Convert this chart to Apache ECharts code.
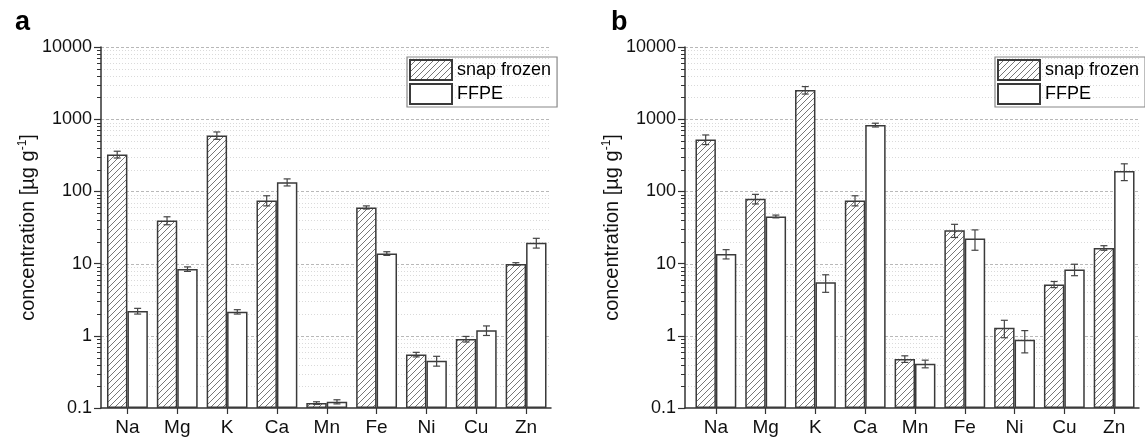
<!DOCTYPE html>
<html>
<head>
<meta charset="utf-8">
<script src="https://cdn.jsdelivr.net/npm/echarts@6/dist/echarts.min.js"></script>
<style>
  html, body { margin: 0; padding: 0; background: #fff; }
  #chart { width: 1145px; height: 441px; }
</style>
</head>
<body>
<div id="chart"></div>
<script>
var elements = ['Na', 'Mg', 'K', 'Ca', 'Mn', 'Fe', 'Ni', 'Cu', 'Zn'];
var tickLabels = ['0.1', '1', '10', '100', '1000', '10000'];
var seriesNames = ['snap frozen', 'FFPE'];

// panel a
var snapA = [325, 39.5, 596, 75, 0.117, 60, 0.55, 0.9, 9.9];
var snapErrA = [35, 5, 70, 12, 0.005, 3, 0.04, 0.08, 0.4];
var ffpeA = [2.2, 8.4, 2.15, 134, 0.122, 13.8, 0.45, 1.19, 19.4];
var ffpeErrA = [0.2, 0.6, 0.15, 15, 0.008, 0.8, 0.07, 0.18, 3];

// panel b
var snapB = [525, 79, 2530, 75, 0.478, 29, 1.29, 5.15, 16.5];
var snapErrB = [80, 12, 300, 12, 0.05, 6, 0.35, 0.5, 1.2];
var ffpeB = [13.6, 45, 5.5, 830, 0.41, 22.3, 0.88, 8.3, 191];
var ffpeErrB = [2, 2, 1.5, 50, 0.05, 7, 0.3, 1.5, 50];

var font = 'Liberation Sans, Arial, sans-serif';
var ink = '#333';

// hatch pattern for snap frozen
function hatch() {
  var s = 6;
  var c = document.createElement('canvas');
  c.width = s; c.height = s;
  var g = c.getContext('2d');
  g.fillStyle = '#fff';
  g.fillRect(0, 0, s, s);
  g.strokeStyle = '#777';
  g.lineWidth = 1;
  g.beginPath();
  g.moveTo(0, s); g.lineTo(s, 0);
  g.moveTo(-1, 1); g.lineTo(1, -1);
  g.moveTo(s - 1, s + 1); g.lineTo(s + 1, s - 1);
  g.stroke();
  return c;
}
var hatchFill = { image: hatch(), repeat: 'repeat' };

// grid line values: 1..9 x each decade
var gridVals = [];
for (var d = -1; d <= 3; d++) {
  for (var m = 1; m <= 9; m++) {
    gridVals.push([0, +(m * Math.pow(10, d)).toPrecision(3), m === 1 ? 1 : 0]);
  }
}
gridVals.push([0, 10000, 1]);

var panels = [
  { frame: { left: 101, top: 47, width: 450, height: 361 },
    bars: { left: 102.5, top: 47, width: 448.5, height: 361 },
    title: 'a', titleLeft: 10, legendLeft: 407, nameGap: 62,
    snap: snapA, snapErr: snapErrA, ffpe: ffpeA, ffpeErr: ffpeErrA },
  { frame: { left: 685, top: 47, width: 454, height: 361 },
    bars: { left: 691, top: 47, width: 448, height: 361 },
    title: 'b', titleLeft: 606, legendLeft: 995, nameGap: 62,
    snap: snapB, snapErr: snapErrB, ffpe: ffpeB, ffpeErr: ffpeErrB }
];

function errData(vals, errs) {
  return vals.map(function (v, i) { return [i, v, errs[i]]; });
}

function errRender(sign) {
  return function (params, api) {
    var i = api.value(0), v = api.value(1), e = api.value(2);
    var p0 = api.coord([i, v]);
    var band = api.coord([i + 1, v])[0] - p0[0];
    var x = p0[0] + sign * band * 0.205;
    var lo = Math.max(v - e, 0.1001);
    var y1 = api.coord([i, lo])[1];
    var y2 = api.coord([i, v + e])[1];
    var st = { stroke: '#444', lineWidth: 1.2 };
    return {
      type: 'group',
      children: [
        { type: 'line', shape: { x1: x, y1: y1, x2: x, y2: y2 }, style: st },
        { type: 'line', shape: { x1: x - 3.5, y1: y1, x2: x + 3.5, y2: y1 }, style: st },
        { type: 'line', shape: { x1: x - 3.5, y1: y2, x2: x + 3.5, y2: y2 }, style: st }
      ]
    };
  };
}

function gridRender(params, api) {
  var v = api.value(1), major = api.value(2);
  var y = Math.round(api.coord([0, v])[1]) + 0.5;
  var cs = params.coordSys;
  var kids = [];
  if (v > 0.1) {
    kids.push({ type: 'line', shape: { x1: cs.x, y1: y, x2: cs.x + cs.width, y2: y },
      style: { stroke: major ? '#b8b8b8' : '#dadada', lineWidth: 1, lineDash: major ? [3, 2] : [1, 2] } });
  }
  if (!major) {
    kids.push({ type: 'line', shape: { x1: cs.x - 4, y1: y, x2: cs.x, y2: y },
      style: { stroke: ink, lineWidth: 1 } });
  }
  return { type: 'group', children: kids };
}

var option = {
  backgroundColor: '#fff',
  animation: false,
  textStyle: { fontFamily: font },
  title: [], legend: [], grid: [], xAxis: [], yAxis: [], series: []
};

panels.forEach(function (p, k) {
  var g0 = k * 2, g1 = k * 2 + 1;
  option.title.push({ text: p.title, left: p.titleLeft, top: 4,
    textStyle: { fontFamily: font, fontSize: 27, fontWeight: 'bold', color: '#000' } });
  option.legend.push({
    data: seriesNames, orient: 'vertical', left: p.legendLeft, top: 57,
    icon: 'rect', itemWidth: 42, itemHeight: 20, itemGap: 2,
    padding: [2, 6, 2, 2], borderColor: '#888', borderWidth: 1.2,
    textStyle: { fontFamily: font, fontSize: 18, color: '#000' }
  });
  option.grid.push(Object.assign({ containLabel: false }, p.frame));
  option.grid.push(Object.assign({ containLabel: false }, p.bars));

  // frame axes
  option.xAxis.push({ type: 'value', gridIndex: g0, min: 0, max: 1,
    axisLine: { show: true, lineStyle: { color: ink, width: 1.5 } },
    axisTick: { show: false }, axisLabel: { show: false }, splitLine: { show: false } });
  option.yAxis.push({ type: 'log', gridIndex: g0, logBase: 10, min: 0.1, max: 10000,
    axisLine: { show: true, lineStyle: { color: ink, width: 1.5 } },
    axisTick: { show: true, length: 7, lineStyle: { color: ink, width: 1.2 } },
    axisLabel: { fontFamily: font, fontSize: 18, color: '#111', margin: 9,
      formatter: function (v) { return tickLabels[Math.round(Math.log10(v)) + 1]; } },
    splitLine: { show: false },
    name: 'concentration [µg g{sup|-1}]', nameLocation: 'middle', nameGap: p.nameGap, nameRotate: 90,
    nameTextStyle: { fontFamily: font, fontSize: 20, color: '#111',
      rich: { sup: { fontFamily: font, fontSize: 12, verticalAlign: 'top', padding: [0, 0, 10, 0] } } } });

  // bar axes
  option.xAxis.push({ type: 'category', gridIndex: g1, data: elements,
    axisLine: { show: false },
    axisTick: { show: true, alignWithLabel: true, length: 6, lineStyle: { color: ink, width: 1.2 } },
    axisLabel: { fontFamily: font, fontSize: 19, color: '#111', margin: 10 } });
  option.yAxis.push({ type: 'log', gridIndex: g1, logBase: 10, min: 0.1, max: 10000,
    startValue: 0.1, show: false });

  option.series.push({ type: 'custom', name: 'grid' + k, xAxisIndex: g0, yAxisIndex: g0, z: 0,
    data: gridVals, renderItem: gridRender, silent: true });
  option.series.push({ type: 'bar', name: seriesNames[0], xAxisIndex: g1, yAxisIndex: g1, z: 2,
    barGap: '0%', barCategoryGap: '18%', data: p.snap,
    itemStyle: { color: hatchFill, borderColor: '#3a3a3a', borderWidth: 1.5 } });
  option.series.push({ type: 'bar', name: seriesNames[1], xAxisIndex: g1, yAxisIndex: g1, z: 2,
    barGap: '0%', barCategoryGap: '18%', data: p.ffpe,
    itemStyle: { color: '#fff', borderColor: '#3a3a3a', borderWidth: 1.5 } });
  option.series.push({ type: 'custom', name: 'errSnap' + k, xAxisIndex: g1, yAxisIndex: g1, z: 3,
    data: errData(p.snap, p.snapErr), renderItem: errRender(-1), silent: true });
  option.series.push({ type: 'custom', name: 'errFfpe' + k, xAxisIndex: g1, yAxisIndex: g1, z: 3,
    data: errData(p.ffpe, p.ffpeErr), renderItem: errRender(1), silent: true });
});

var chart = echarts.init(document.getElementById('chart'), null, { renderer: 'canvas' });
chart.setOption(option);
</script>
</body>
</html>
